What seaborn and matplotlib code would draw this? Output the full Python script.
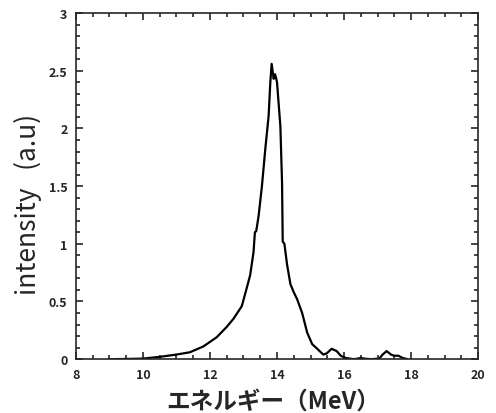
import pandas as pd
import matplotlib
matplotlib.use('Agg')
import matplotlib.pyplot as plt
from matplotlib.ticker import MultipleLocator
import seaborn as sns

# spectrum
energy = [9.0, 9.5, 10.0, 10.5, 11.0, 11.4, 11.8, 12.2, 12.5, 12.7, 12.95, 13.1,
          13.2, 13.3, 13.34, 13.38, 13.45, 13.55, 13.65, 13.75, 13.8, 13.84,
          13.90, 13.94, 13.97, 14.0, 14.1, 14.15, 14.17, 14.22, 14.3, 14.4,
          14.5, 14.6, 14.75, 14.9, 15.05, 15.2, 15.38, 15.48, 15.63, 15.78,
          15.9, 16.05, 16.3, 16.5, 16.6, 16.8, 17.05, 17.15, 17.27, 17.4,
          17.5, 17.62, 17.75, 17.9]
intensity = [0.0, 0.002, 0.005, 0.02, 0.04, 0.06, 0.11, 0.19, 0.28, 0.35, 0.46, 0.62,
             0.73, 0.93, 1.1, 1.11, 1.24, 1.50, 1.82, 2.11, 2.40, 2.56,
             2.43, 2.47, 2.44, 2.40, 2.02, 1.53, 1.02, 1.0, 0.82, 0.65,
             0.58, 0.52, 0.40, 0.23, 0.13, 0.09, 0.04, 0.05, 0.09, 0.07,
             0.03, 0.01, 0.0, 0.01, 0.005, 0.0, 0.005, 0.04, 0.07, 0.04,
             0.03, 0.03, 0.01, 0.0]

x_ticks = [8, 10, 12, 14, 16, 18, 20]
y_ticks = [0, 0.5, 1, 1.5, 2, 2.5, 3]
y_ticklabels = ['0', '0.5', '1', '1.5', '2', '2.5', '3']

df = pd.DataFrame({'energy': energy, 'intensity': intensity})

sns.set_style('ticks')
plt.rcParams['font.family'] = ['Noto Sans CJK JP', 'DejaVu Sans']

fig = plt.figure(figsize=(4.96, 4.14), dpi=100)
ax = fig.add_axes([0.153, 0.130, 0.811, 0.836])

sns.lineplot(data=df, x='energy', y='intensity', color='black', linewidth=1.6,
             estimator=None, sort=False, ax=ax)

ax.set_xlim(8, 20)
ax.set_ylim(0, 3)
ax.set_xticks(x_ticks)
ax.set_yticks(y_ticks)
ax.set_yticklabels(y_ticklabels)
ax.xaxis.set_minor_locator(MultipleLocator(0.5))
ax.yaxis.set_minor_locator(MultipleLocator(0.1))
ax.tick_params(which='both', direction='in', top=True, right=True, width=1.2,
               labelsize=9, pad=6)
ax.tick_params(which='major', length=5)
ax.tick_params(which='minor', length=3)
for lab in ax.get_xticklabels() + ax.get_yticklabels():
    lab.set_fontweight('bold')
for s in ax.spines.values():
    s.set_linewidth(1.2)

ax.set_xlabel('エネルギー（MeV）', fontsize=17, fontweight='bold')
ax.set_ylabel('intensity   (a.u)', fontsize=19)
ax.xaxis.set_label_coords(0.49, -0.085)
ax.yaxis.set_label_coords(-0.085, 0.45)

fig.savefig('out.png', dpi=100)
